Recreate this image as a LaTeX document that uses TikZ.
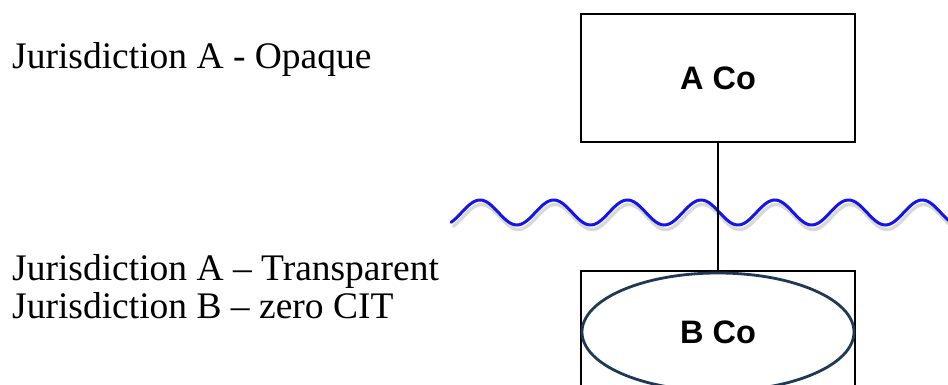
\documentclass[tikz,border=0pt]{standalone}
\usepackage{fontspec}
\setmainfont{Liberation Serif}
\setsansfont{Liberation Sans}
\usetikzlibrary{shapes.geometric}
\definecolor{wavblue}{RGB}{20,20,235}
\definecolor{navy}{RGB}{31,56,86}
\begin{document}
\begin{tikzpicture}[x=1pt,y=-1pt,
    cobox/.style={draw,line width=2pt,minimum width=274pt,minimum height=128pt,inner sep=0pt},
    lbl/.style={anchor=base west,inner sep=0pt,font=\fontsize{37.5}{38}\selectfont},
    coname/.style={font=\sffamily\bfseries\fontsize{32.5}{34}\selectfont}]
    \useasboundingbox (0,0) rectangle (948,385);
    \clip (0,0) rectangle (948,385);
    % jurisdiction labels
    \node [lbl] (opq) at (12,69) {Jurisdiction A - Opaque};
    \node [lbl] (trn) at (12,280) {Jurisdiction A – Transparent};
    \node [lbl] (zcit) at (12,318) {Jurisdiction B – zero CIT};
    % entities
    \node [cobox,coname] (aco) at (718,78) {A Co};
    \node [cobox] (bco) at (718,335) {};
    \node [draw=navy,ellipse,line width=2.8pt,coname,minimum width=272pt,minimum height=118pt,inner sep=0pt] (bell) at (718,332) {B Co};
    % border between jurisdictions
    \draw [gray!30,line width=3.4pt,line cap=round] plot [domain=452:960,samples=240] (\x+1.5,{217-12.5*sin(4.8847*(\x-461.6))});
    \draw [wavblue,line width=3pt,line cap=round] plot [domain=451:960,samples=240] (\x,{212.5-12.5*sin(4.8847*(\x-461.6))});
    \draw [line width=2pt] (aco.south) -- (bco.north);
\end{tikzpicture}
\end{document}
